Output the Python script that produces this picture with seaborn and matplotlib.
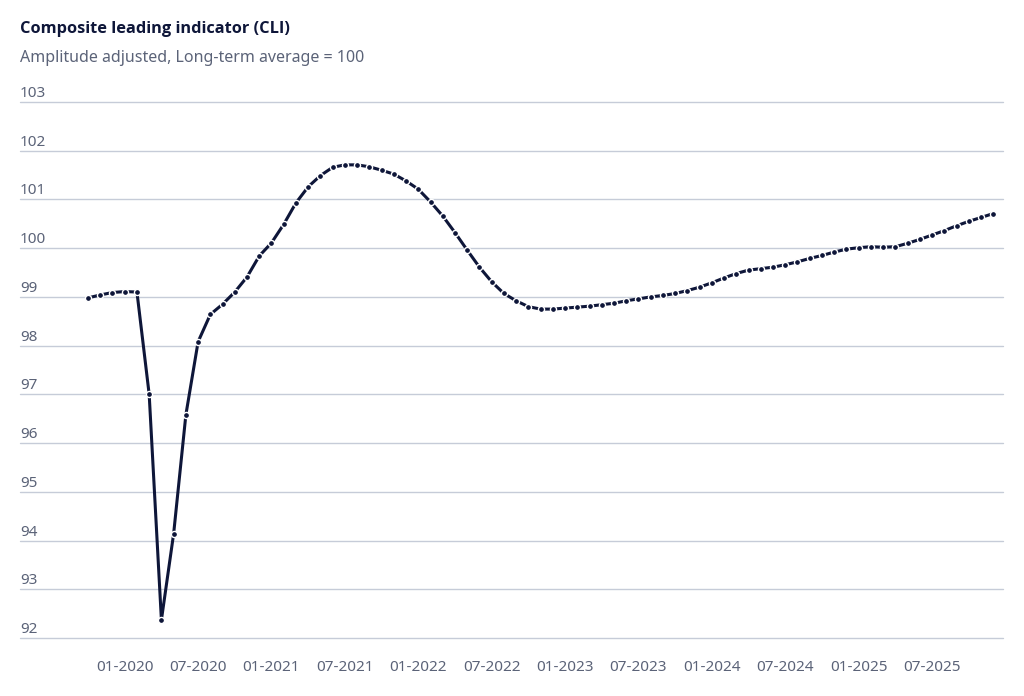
import numpy as np
import pandas as pd
import matplotlib
matplotlib.use("Agg")
import matplotlib.pyplot as plt
import matplotlib.transforms as mtransforms
import seaborn as sns

# Monthly CLI, Oct 2019 .. Dec 2025
start_month = "2019-10"
cli_values = [
    98.98, 99.04, 99.09,                                                      # 2019
    99.11, 99.10, 97.00, 92.37, 94.14, 96.58, 98.08, 98.64, 98.85, 99.10, 99.41, 99.84,  # 2020
    100.11, 100.49, 100.93, 101.26, 101.49, 101.66, 101.71, 101.71, 101.67, 101.60, 101.52, 101.38,  # 2021
    101.21, 100.95, 100.66, 100.32, 99.96, 99.61, 99.31, 99.07, 98.92, 98.80, 98.75, 98.75,  # 2022
    98.77, 98.79, 98.81, 98.84, 98.87, 98.92, 98.96, 99.00, 99.03, 99.07, 99.13, 99.20,  # 2023
    99.29, 99.39, 99.48, 99.55, 99.58, 99.61, 99.66, 99.72, 99.79, 99.85, 99.92, 99.98,  # 2024
    100.01, 100.03, 100.02, 100.03, 100.10, 100.18, 100.27, 100.36, 100.46, 100.55, 100.63, 100.71,  # 2025
]
tick_labels = ["01-2020", "07-2020", "01-2021", "07-2021", "01-2022", "07-2022",
               "01-2023", "07-2023", "01-2024", "07-2024", "01-2025", "07-2025"]
y_ticks = [92, 93, 94, 95, 96, 97, 98, 99, 100, 101, 102, 103]

title = "Composite leading indicator (CLI)"
subtitle = "Amplitude adjusted, Long-term average = 100"

NAVY = "#0e1639"
GREY = "#5b6378"
GRID = "#c6ccd8"

sns.set_theme(style="white")
plt.rcParams['font.family'] = ['Noto Sans', 'DejaVu Sans']

months = pd.date_range(start_month, periods=len(cli_values), freq="MS")
df = pd.DataFrame({"month": months.strftime("%m-%Y"), "pos": np.arange(len(cli_values)),
                   "cli": cli_values})

fig = plt.figure(figsize=(10.24, 6.96), dpi=100)
ax = fig.add_axes([20 / 1024, 1 - 638 / 696, 983 / 1024, 536 / 696])

sns.lineplot(data=df, x="pos", y="cli", ax=ax, color=NAVY, linewidth=2.2,
             marker="o", markersize=4.4, markerfacecolor=NAVY,
             markeredgecolor="white", markeredgewidth=1.0, zorder=3)

ax.set_ylim(92, 103)
ax.set_xlim(-5.56, 74.8)

# horizontal grid
for v in y_ticks:
    ax.axhline(v, color=GRID, linewidth=1.0, zorder=1, clip_on=False)

# y labels sit above the grid lines on the left
ax.set_yticks([])
trans = mtransforms.blended_transform_factory(ax.transAxes, ax.transData)
for v in y_ticks:
    ax.annotate(str(v), xy=(0, v), xycoords=trans, xytext=(0, 1),
                textcoords="offset pixels", ha="left", va="bottom",
                fontsize=11, color=GREY)

tick_pos = df.set_index("month").loc[tick_labels, "pos"].values
ax.set_xticks(tick_pos)
ax.set_xticklabels(tick_labels)
ax.tick_params(axis="x", length=0, pad=16, labelsize=11, labelcolor=GREY)
ax.set_xlabel("")
ax.set_ylabel("")

for s in ax.spines.values():
    s.set_visible(False)

fig.text(20 / 1024, 1 - 29 / 696, title, fontsize=11.8, fontweight="bold",
         family=["Open Sans", "Noto Sans", "DejaVu Sans"],
         color=NAVY, ha="left", va="center")
fig.text(20 / 1024, 1 - 58 / 696, subtitle, fontsize=11.5, color=GREY,
         ha="left", va="center")

fig.savefig("out.png", dpi=100, facecolor="white")
